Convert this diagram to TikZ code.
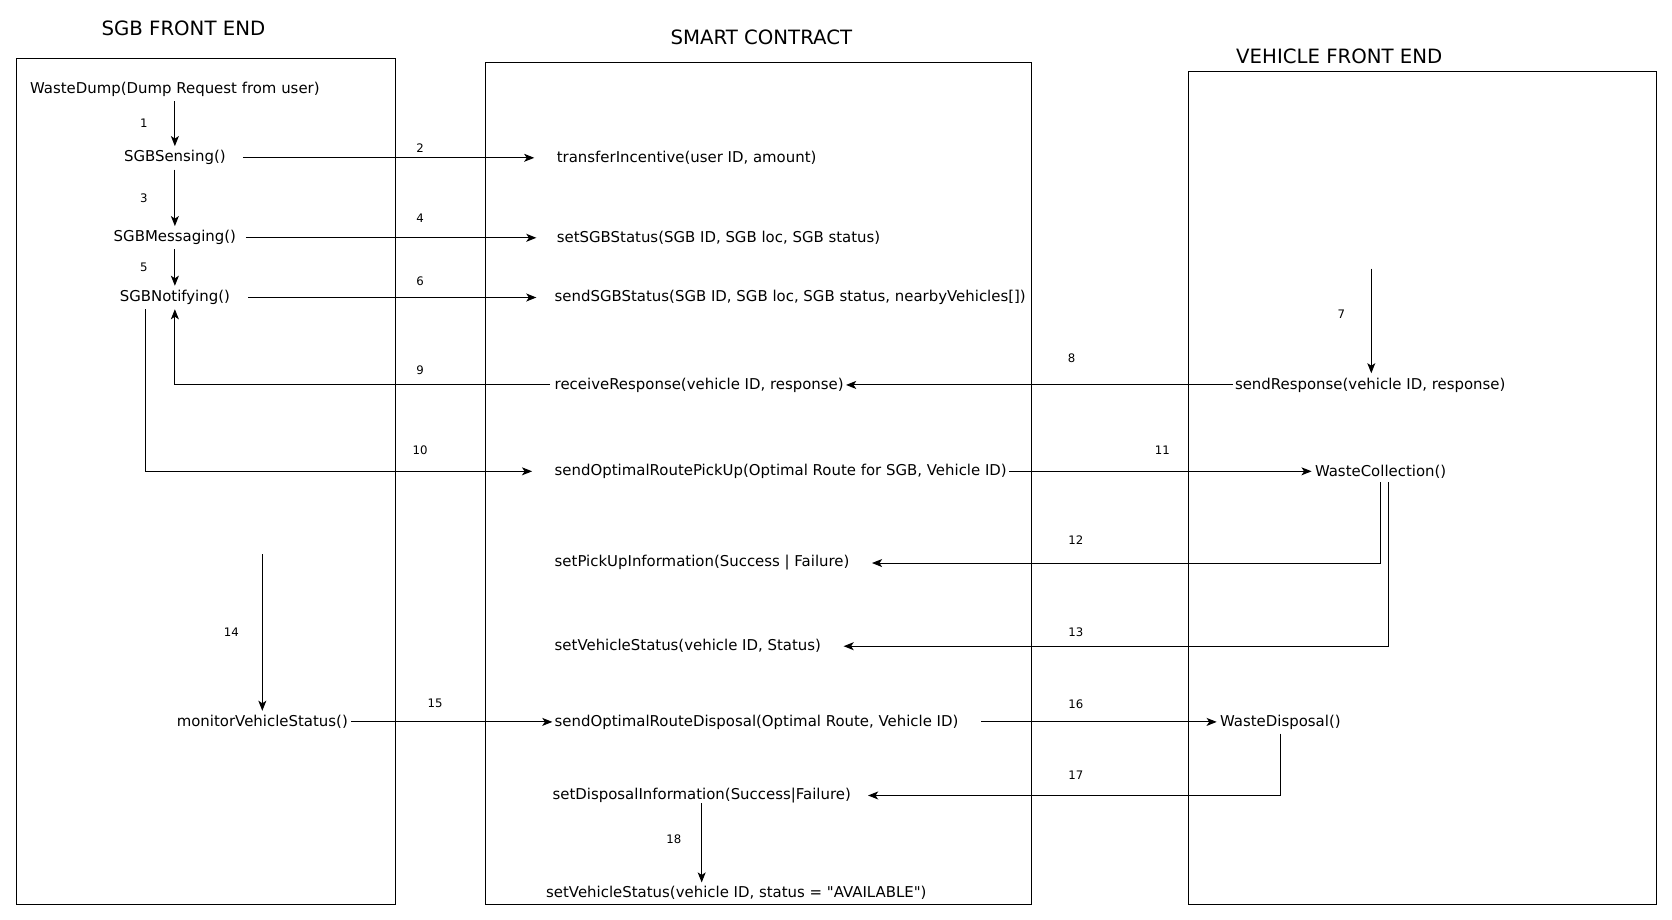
\documentclass[tikz,border=0pt]{standalone}
\usepackage{fontspec}
\setmainfont{DejaVu Sans}[Ligatures=TeXOff]
\usetikzlibrary{arrows.meta,positioning}
\tikzset{
  lane/.style={draw,line width=0.9pt},
  lanetitle/.style={font=\fontsize{18.5}{22}\selectfont},
  call/.style={font=\fontsize{14}{17}\selectfont,inner sep=0pt},
  stepno/.style={font=\fontsize{11}{13}\selectfont,inner sep=0pt},
  flow/.style={->,>={Stealth[length=9.5pt,width=7.5pt,inset=2.5pt]},line width=0.9pt},
  vflow/.style={flow,shorten <=4pt,shorten >=4pt}
}

\begin{document}
\begin{tikzpicture}[x=1pt,y=-1pt]
  \useasboundingbox (0,0) rectangle (1568,862);
  % the three lanes
  \draw[lane] (15,55) rectangle (371,848);
  \draw[lane] (455,59) rectangle (967,848);
  \draw[lane] (1115,67) rectangle (1553,848);
  \node[lanetitle] (tsgb) at (172,27) {SGB FRONT END};
  \node[lanetitle] (tsc) at (714,35) {SMART CONTRACT};
  \node[lanetitle] (tveh) at (1256,53) {VEHICLE FRONT END};

  % sgb front end
  \node[call] (dump) at (164,84) {WasteDump(Dump Request from user)};
  \node[call] (sense) at (164,148) {SGBSensing()};
  \node[call] (msg) at (164,223) {SGBMessaging()};
  \node[call] (notify) at (164,279) {SGBNotifying()};
  \node[call] (monitor) at (246,677) {monitorVehicleStatus()};
  \coordinate (c14) at (246,520);

  % smart contract
  \node[call,anchor=west] (incent) at (522,148) {transferIncentive(user ID, amount)};
  \node[call,anchor=west] (setsgb) at (522,223) {setSGBStatus(SGB ID, SGB loc, SGB status)};
  \node[call,anchor=west] (sendsgb) at (520,279) {sendSGBStatus(SGB ID, SGB loc, SGB status, nearbyVehicles[])};
  \node[call,anchor=west] (recv) at (520,361) {receiveResponse(vehicle ID, response)};
  \node[call,anchor=west] (pick) at (520,442) {sendOptimalRoutePickUp(Optimal Route for SGB, Vehicle ID)};
  \node[call,anchor=west] (pickinfo) at (520,528) {setPickUpInformation(Success | Failure)};
  \node[call,anchor=west] (vstat) at (520,606) {setVehicleStatus(vehicle ID, Status)};
  \node[call,anchor=west] (disp) at (520,677) {sendOptimalRouteDisposal(Optimal Route, Vehicle ID)};
  \node[call,anchor=west] (dinfo) at (518,746) {setDisposalInformation(Success|Failure)};
  \node[call,anchor=west] (avail) at (512,837) {setVehicleStatus(vehicle ID, status = "AVAILABLE")};

  % vehicle front end
  \coordinate (c7) at (1286,252);
  \node[call,anchor=west] (resp) at (1158,361) {sendResponse(vehicle ID, response)};
  \node[call,anchor=west] (collect) at (1233,442) {WasteCollection()};
  \node[call,anchor=west] (wdisp) at (1144,677) {WasteDisposal()};

  % messages
  \draw[vflow] (dump) -- (sense);
  \draw[flow] ([xshift=16pt]sense.east) -- ([xshift=-21pt]incent.west);
  \draw[vflow] (sense) -- (msg);
  \draw[flow] ([xshift=9pt]msg.east) -- ([xshift=-19pt]setsgb.west);
  \draw[vflow] (msg) -- (notify);
  \draw[flow] ([xshift=17pt]notify.east) -- ([xshift=-17pt]sendsgb.west);
  \draw[vflow,shorten <=0pt] (c7) -- (c7 |- resp.north);
  \draw[flow] ([xshift=-2pt]resp.west) -- ([xshift=2pt]recv.east);
  \draw[flow] ([xshift=-4pt]recv.west) -| ([yshift=-4pt]notify.south);
  \draw[flow] ([xshift=-28pt,yshift=-4pt]notify.south) |- ([xshift=-21pt]pick.west);
  \draw[flow] ([xshift=2pt]pick.east) -- ([xshift=-3pt]collect.west);
  \draw[flow] ([yshift=-4pt]collect.south) |- ([xshift=21pt]pickinfo.east);
  \draw[flow] ([xshift=7pt,yshift=-4pt]collect.south) |- ([xshift=21pt]vstat.east);
  \draw[vflow,shorten <=0pt] (c14) -- (monitor.north);
  \draw[flow] ([xshift=3pt]monitor.east) -- ([xshift=-2pt]disp.west);
  \draw[flow] ([xshift=21pt]disp.east) -- ([xshift=-3pt]wdisp.west);
  \draw[flow] ([yshift=-4pt]wdisp.south) |- ([xshift=16pt]dinfo.east);
  \draw[flow,shorten >=3pt] (dinfo.south) -- (dinfo.south |- avail.north);

  % step numbers
  \foreach \n/\x/\y in {1/135/116, 2/394/139, 3/135/186, 4/394/205, 5/135/251,
    6/394/264, 7/1258/295, 8/1005/336, 9/394/347, 10/394/422, 11/1090/422,
    12/1009/507, 13/1009/593, 14/217/593, 15/408/660, 16/1009/660,
    17/1009/727, 18/632/787}
    \node[stepno] (s\n) at (\x,\y) {\n};
\end{tikzpicture}
\end{document}
